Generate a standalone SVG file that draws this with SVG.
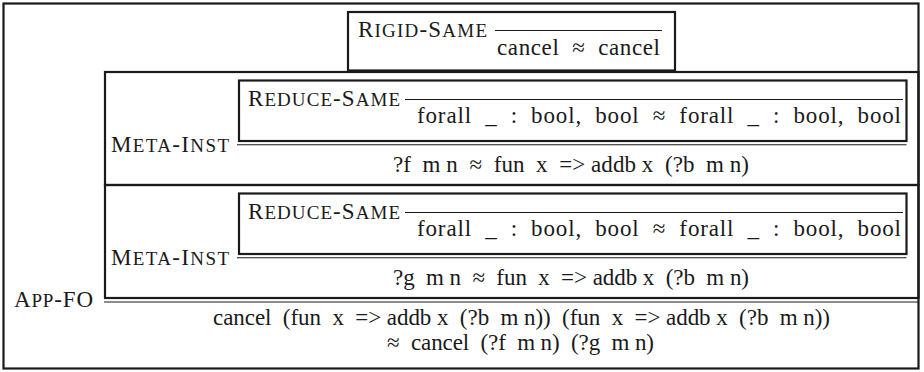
<svg xmlns="http://www.w3.org/2000/svg" width="924" height="372" viewBox="0 0 924 372">
<style>
.box{fill:none;stroke:#1a1a1a;stroke-width:2.2}
.bar{stroke:#1a1a1a;stroke-width:1.1}
.t{font-family:"Liberation Serif","Times New Roman",serif;font-size:23px;fill:#1a1a1a}
.sc{font-size:19px}
</style>
<rect width="924" height="372" fill="#ffffff"/>
<g id="app-fo">
<rect class="box" x="3.5" y="3.5" width="915" height="365"/>
<text class="t" x="14" y="307" textLength="79" lengthAdjust="spacing">A<tspan class="sc">PP</tspan>-FO</text>
<text class="t" x="213" y="325" textLength="617" lengthAdjust="spacing" xml:space="preserve">cancel  (fun  x  =&gt; addb x  (?b  m n))  (fun  x  =&gt; addb x  (?b  m n))</text>
<text class="t" x="387" y="350" textLength="267" lengthAdjust="spacing" xml:space="preserve">≈  cancel  (?f  m n)  (?g  m n)</text>
</g>
<g id="rigid-same">
<rect class="box" x="348" y="12" width="327" height="58.5"/>
<text class="t" x="358" y="37" textLength="129" lengthAdjust="spacing">R<tspan class="sc">IGID</tspan>-S<tspan class="sc">AME</tspan></text>
<text class="t" x="497" y="55" textLength="163" lengthAdjust="spacing" xml:space="preserve">cancel  ≈  cancel</text>
</g>
<g id="meta-inst-1">
<rect class="box" x="105" y="72" width="813.5" height="113"/>
<text class="t" x="111" y="152" textLength="118" lengthAdjust="spacing">M<tspan class="sc">ETA</tspan>-I<tspan class="sc">NST</tspan></text>
<text class="t" x="393" y="172" textLength="356" lengthAdjust="spacing" xml:space="preserve">?f  m n  ≈  fun  x  =&gt; addb x  (?b  m n)</text>
</g>
<g id="reduce-same-1">
<rect class="box" x="239" y="80.5" width="667.5" height="60.5"/>
<text class="t" x="248" y="106" textLength="152" lengthAdjust="spacing">R<tspan class="sc">EDUCE</tspan>-S<tspan class="sc">AME</tspan></text>
<text class="t" x="417" y="123" textLength="484" lengthAdjust="spacing" xml:space="preserve">forall  _  :  bool,  bool  ≈  forall  _  :  bool,  bool</text>
</g>
<g id="meta-inst-2">
<rect class="box" x="105" y="185" width="813.5" height="113"/>
<text class="t" x="111" y="265" textLength="118" lengthAdjust="spacing">M<tspan class="sc">ETA</tspan>-I<tspan class="sc">NST</tspan></text>
<text class="t" x="393" y="285" textLength="356" lengthAdjust="spacing" xml:space="preserve">?g  m n  ≈  fun  x  =&gt; addb x  (?b  m n)</text>
</g>
<g id="reduce-same-2">
<rect class="box" x="239" y="193.5" width="667.5" height="60.5"/>
<text class="t" x="248" y="219" textLength="152" lengthAdjust="spacing">R<tspan class="sc">EDUCE</tspan>-S<tspan class="sc">AME</tspan></text>
<text class="t" x="417" y="236" textLength="484" lengthAdjust="spacing" xml:space="preserve">forall  _  :  bool,  bool  ≈  forall  _  :  bool,  bool</text>
</g>
<g id="connectors">
<line class="bar" x1="495" y1="30.5" x2="662" y2="30.5"/>
<line class="bar" x1="405" y1="99.5" x2="903" y2="99.5"/>
<line class="bar" x1="237" y1="144.8" x2="906.5" y2="144.8"/>
<line class="bar" x1="405" y1="212.5" x2="903" y2="212.5"/>
<line class="bar" x1="237" y1="257.8" x2="906.5" y2="257.8"/>
<line class="bar" x1="104" y1="302" x2="918.5" y2="302"/>
</g>
</svg>
